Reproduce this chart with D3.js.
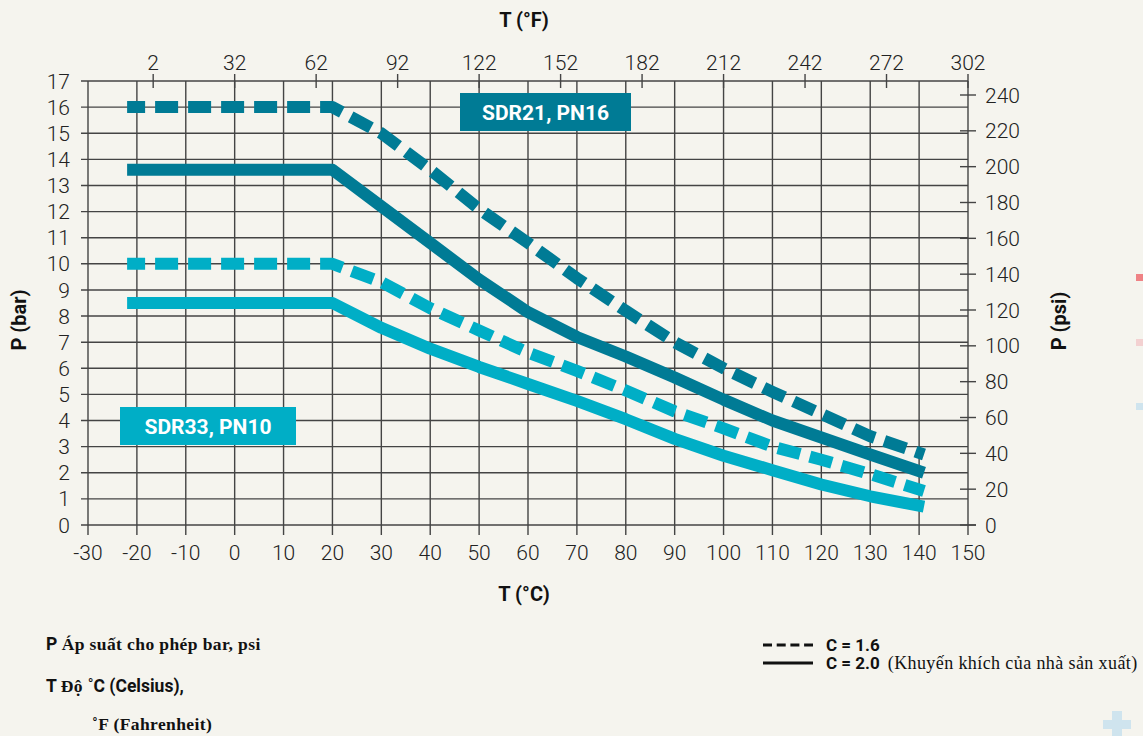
<!DOCTYPE html>
<html>
<head>
<meta charset="utf-8">
<script src="https://cdn.jsdelivr.net/npm/d3@7"></script>
<style>
  body { margin: 0; background: #f5f4ee; }
  svg { display: block; }
  .tick-lbl { font-family: Roboto, sans-serif; font-weight: 300; font-size: 21px; fill: #222; }
  .ttl { font-family: Roboto, sans-serif; font-weight: 700; font-size: 20px; fill: #111; }
  .serif { font-family: "Liberation Serif", serif; letter-spacing: 0.4px; }
</style>
</head>
<body>
<script>
// temperatures (°C) where the curves were read
var tempC = [-22, 20, 30, 40, 50, 60, 70, 80, 90, 100, 110, 120, 130, 141];

// SDR21, PN16
var pn16_c16 = [16, 16, 15.0, 13.6, 12.1, 10.8, 9.45, 8.2, 7.0, 6.0, 5.1, 4.25, 3.4, 2.7];
var pn16_c20 = [13.6, 13.6, 12.2, 10.8, 9.4, 8.15, 7.2, 6.45, 5.65, 4.8, 4.0, 3.35, 2.7, 2.0];
// SDR33, PN10
var pn10_c16 = [10, 10, 9.3, 8.3, 7.45, 6.6, 5.9, 5.15, 4.35, 3.7, 3.0, 2.5, 1.95, 1.3];
var pn10_c20 = [8.5, 8.5, 7.55, 6.75, 6.05, 5.4, 4.75, 4.05, 3.3, 2.65, 2.1, 1.55, 1.1, 0.7];

var cTicks = d3.range(-30, 151, 10);
var fTicks = d3.range(2, 303, 30);
var barTicks = d3.range(0, 18, 1);
var psiTicks = d3.range(0, 241, 20);

var dark = "#007b95", light = "#00aec6";

var W = 1143, H = 736;
var svg = d3.select("body").append("svg").attr("width", W).attr("height", H);

var x = d3.scaleLinear().domain([-30, 150]).range([88, 968]);
// °F axis shares the °C positions
var xF = d3.scaleLinear().domain([2, 302]).range([x((2 - 32) / 1.8), x(150)]);
var y = d3.scaleLinear().domain([0, 17]).range([525, 81]);
var yPsi = d3.scaleLinear().domain([0, 240]).range([525, 95]);

// grid
var grid = svg.append("g").attr("stroke", "#444").attr("stroke-width", 1.4);
grid.selectAll(".v").data(cTicks).enter().append("line")
    .attr("x1", d => x(d)).attr("x2", d => x(d))
    .attr("y1", y(17)).attr("y2", y(0) + 10);
grid.selectAll(".h").data(barTicks).enter().append("line")
    .attr("x1", x(-30) - 7).attr("x2", d => d === 0 ? x(150) + 8 : x(150))
    .attr("y1", d => y(d)).attr("y2", d => y(d));

// top °F ticks
grid.selectAll(".f").data(fTicks).enter().append("line")
    .attr("x1", d => xF(d)).attr("x2", d => xF(d))
    .attr("y1", y(17) - 7).attr("y2", y(17) + 7);
// right psi ticks
grid.selectAll(".p").data(psiTicks).enter().append("line")
    .attr("x1", x(150) - 8).attr("x2", x(150) + 8)
    .attr("y1", d => yPsi(d)).attr("y2", d => yPsi(d));

// tick labels
svg.selectAll(".bl").data(barTicks).enter().append("text").attr("class", "tick-lbl")
    .attr("x", 70).attr("y", d => y(d)).attr("dy", "0.36em")
    .attr("text-anchor", "end").text(d => d);
svg.selectAll(".cl").data(cTicks).enter().append("text").attr("class", "tick-lbl")
    .attr("x", d => x(d)).attr("y", 560).attr("text-anchor", "middle").text(d => d);
svg.selectAll(".fl").data(fTicks).enter().append("text").attr("class", "tick-lbl")
    .attr("x", d => xF(d)).attr("y", 70).attr("text-anchor", "middle").text(d => d);
svg.selectAll(".pl").data(psiTicks).enter().append("text").attr("class", "tick-lbl")
    .attr("x", 985).attr("y", d => yPsi(d)).attr("dy", "0.36em").text(d => d);

// axis titles
svg.append("text").attr("class", "ttl").attr("x", 524).attr("y", 27).attr("text-anchor", "middle").text("T (°F)");
svg.append("text").attr("class", "ttl").attr("x", 524).attr("y", 601).attr("text-anchor", "middle").text("T (°C)");
svg.append("text").attr("class", "ttl").attr("text-anchor", "middle")
    .attr("transform", "translate(26,320) rotate(-90)").text("P (bar)");
svg.append("text").attr("class", "ttl").attr("text-anchor", "middle")
    .attr("transform", "translate(1066,321) rotate(-90)").text("P (psi)");

// curves
var line = d3.line().x((d, i) => x(tempC[i])).y(d => y(d));
var series = [
    {v: pn10_c20, c: light, dash: null},
    {v: pn10_c16, c: light, dash: "23,10"},
    {v: pn16_c20, c: dark, dash: null},
    {v: pn16_c16, c: dark, dash: "23,10"}
];
svg.selectAll(".curve").data(series).enter().append("path")
    .attr("d", d => line(d.v))
    .attr("fill", "none")
    .attr("stroke", d => d.c)
    .attr("stroke-width", 12)
    .attr("stroke-linejoin", "round")
    .attr("stroke-dasharray", d => d.dash)
    .attr("stroke-dashoffset", 5);

// series labels
function tag(txt, col, cx, cy, w) {
    svg.append("rect").attr("x", cx - w / 2).attr("y", cy - 19).attr("width", w).attr("height", 38).attr("fill", col);
    svg.append("text").attr("x", cx).attr("y", cy).attr("dy", "0.36em").attr("text-anchor", "middle")
        .style("font-family", "Roboto, sans-serif").style("font-weight", 700).style("font-size", "21px")
        .attr("fill", "#fff").text(txt);
}
tag("SDR21, PN16", dark, 545.5, 112, 171);
tag("SDR33, PN10", light, 208, 426, 176);

// notes at bottom
var n1 = svg.append("text").attr("x", 46).attr("y", 650).style("font-size", "17.5px").attr("fill", "#111");
n1.append("tspan").style("font-family", "Roboto, sans-serif").style("font-weight", 700).text("P ");
n1.append("tspan").attr("class", "serif").style("font-weight", 700).text("Áp suất cho phép bar, psi");

var n2 = svg.append("text").attr("x", 46).attr("y", 692).style("font-size", "17.5px").attr("fill", "#111");
n2.append("tspan").style("font-family", "Roboto, sans-serif").style("font-weight", 700).text("T ");
n2.append("tspan").attr("class", "serif").style("font-weight", 700).text("Độ ");
n2.append("tspan").style("font-family", "Roboto, sans-serif").style("font-weight", 700).text("˚C (Celsius),");

svg.append("text").attr("class", "serif").attr("x", 92).attr("y", 730)
    .style("font-size", "17.5px").style("font-weight", 700).attr("fill", "#111").text("˚F (Fahrenheit)");

// legend
svg.append("line").attr("x1", 763).attr("x2", 813).attr("y1", 645).attr("y2", 645)
    .attr("stroke", "#111").attr("stroke-width", 3).attr("stroke-dasharray", "9,4.7");
svg.append("line").attr("x1", 763).attr("x2", 813).attr("y1", 663).attr("y2", 663)
    .attr("stroke", "#111").attr("stroke-width", 3);
svg.append("text").attr("x", 826).attr("y", 651).style("font-family", "Roboto, sans-serif")
    .style("font-weight", 700).style("font-size", "17px").attr("fill", "#111").text("C = 1.6");
var l2 = svg.append("text").attr("x", 826).attr("y", 669).style("font-size", "17px").attr("fill", "#111");
l2.append("tspan").style("font-family", "Roboto, sans-serif").style("font-weight", 700).text("C = 2.0");
l2.append("tspan").attr("class", "serif").attr("dx", 8).style("font-size", "18px").text("(Khuyến khích của nhà sản xuất)");

// page decorations at right edge
var deco = [{y: 274, c: "#ef8285"}, {y: 339, c: "#f3d1d1"}, {y: 403, c: "#cfe4ee"}];
svg.selectAll(".deco").data(deco).enter().append("rect")
    .attr("x", 1136).attr("y", d => d.y).attr("width", 7).attr("height", 7).attr("fill", d => d.c);
svg.append("rect").attr("x", 1103).attr("y", 720).attr("width", 28).attr("height", 9).attr("fill", "#cfe4ee");
svg.append("rect").attr("x", 1112).attr("y", 711).attr("width", 10).attr("height", 25).attr("fill", "#cfe4ee");
</script>
</body>
</html>
